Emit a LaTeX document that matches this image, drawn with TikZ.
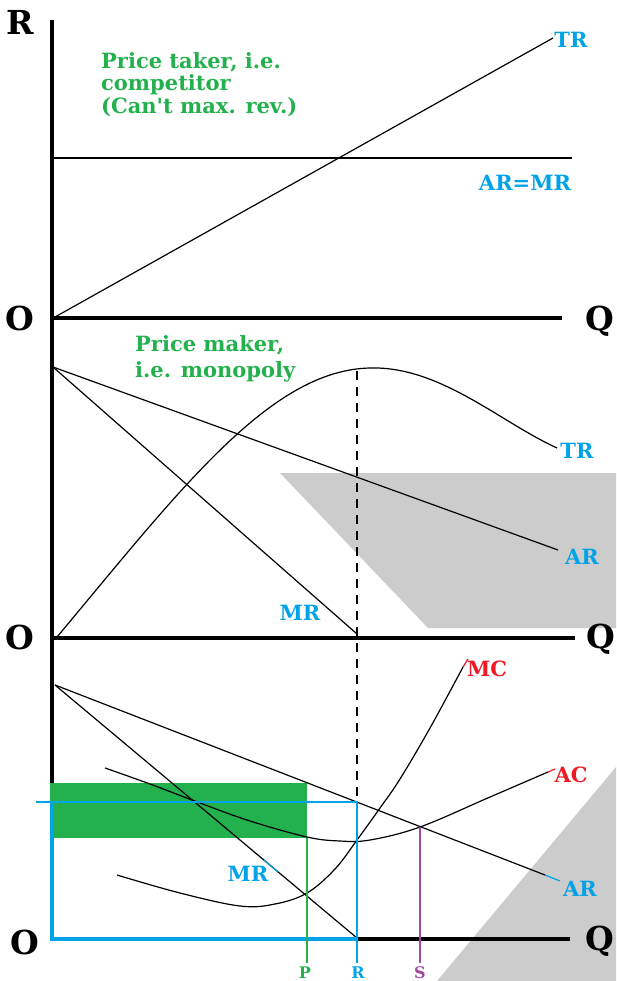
\documentclass[tikz,border=0pt]{standalone}
\usepackage{fontspec}
\setmainfont{DejaVu Serif}
\definecolor{pblue}{RGB}{0,162,232}
\definecolor{pgreen}{RGB}{34,177,76}
\definecolor{pred}{RGB}{237,28,36}
\definecolor{ppurple}{RGB}{163,73,164}
\definecolor{pgray}{RGB}{204,204,204}
\begin{document}
\begin{tikzpicture}[x=1pt,y=-1pt,
  axisline/.style={line width=4.5pt},
  curveline/.style={line width=1.2pt},
  dashline/.style={line width=1.5pt, dash pattern=on 9pt off 7pt},
  lbl/.style={font=\fontsize{21}{24}\selectfont\bfseries, inner sep=0pt},
  biglbl/.style={font=\fontsize{33}{36}\selectfont\bfseries, inner sep=0pt},
  smalllbl/.style={font=\fontsize{16}{18}\selectfont\bfseries, inner sep=0pt},
]
\useasboundingbox (0,0) rectangle (616,981);

% grey shading
\fill[pgray] (280,473) -- (616,473) -- (616,628) -- (428,628) -- cycle;
\fill[pgray] (437,981) -- (616,767) -- (616,981) -- cycle;

% coordinates
\coordinate (Vtop) at (52,20);
\coordinate (Vbot) at (52,783);
\coordinate (O1) at (50,318);  \coordinate (E1) at (562,318);
\coordinate (O2) at (50,638);  \coordinate (E2) at (575,638);
\coordinate (B3) at (357,939); \coordinate (E3) at (570,939);

% axes
\draw[axisline] (Vtop) -- (Vbot);
\draw[axisline] (O1) -- (E1);
\draw[axisline] (O2) -- (E2);
\draw[axisline] (B3) -- (E3);

% ---------- top panel ----------
\coordinate (armrL) at (52,158); \coordinate (armrR) at (572,158);
\coordinate (trS) at (55,317);   \coordinate (trE) at (553,38);
\draw[line width=1.4pt] (armrL) -- (armrR);
\draw[curveline] (trS) -- (trE);

% ---------- middle panel ----------
\coordinate (mS) at (53,367);
\coordinate (mAR) at (558,550);
\coordinate (mMR) at (357,634);
\coordinate (mTRs) at (57,637);
\coordinate (mTRp) at (370,368);
\coordinate (mTRe) at (557,448);
\draw[curveline] (mS) -- (mAR);
\draw[curveline] (mS) -- (mMR);
\draw[curveline] (mTRs) .. controls (180,490) and (270,370) .. (mTRp)
                        .. controls (440,366) and (500,422) .. (mTRe);
\coordinate (dTop) at (357,371);
\coordinate (dBot) at (357,802);
\draw[dashline] (dTop) -- (dBot);

% ---------- bottom panel ----------
\fill[pgreen] (50,783) rectangle (307,838);
\coordinate (bS) at (55,685);
\coordinate (bARk) at (545,875);
\coordinate (bARe) at (560,881);
\coordinate (bMR) at (357,938);
\coordinate (mrA) at (264,860);
\coordinate (mrB) at (278,872);
\draw[curveline] (bS) -- (bARk);
\draw[curveline, pblue] (bARk) -- (bARe);
\draw[curveline] (bS) -- (bMR);
\draw[curveline, pblue] (mrA) -- (mrB);
% MC
\coordinate (mcK) at (463,667);
\coordinate (mcE) at (468,659);
\draw[curveline] plot[smooth, tension=0.6] coordinates {(117,875) (180,893) (240,906) (275,904) (307,893) (335,869) (357,840) (380,808) (400,779) (430,728) (463,667)};
\draw[curveline, pred] (mcK) -- (mcE);
% AC
\coordinate (acK) at (548,772);
\coordinate (acE) at (555,769);
\draw[curveline] plot[smooth, tension=0.6] coordinates {(105,768) (150,784) (200,803) (250,821) (307,837) (340,841) (370,840) (420,827) (490,797) (548,772)};
\draw[curveline, pred] (acK) -- (acE);

% blue rectangle
\coordinate (bl1) at (36,802);
\coordinate (bl2) at (357,802);
\coordinate (bl3) at (52,802);
\draw[pblue, line width=2pt] (bl1) -- (bl2) -- (B3);
\draw[pblue, line width=4pt] (bl3) -- (52,939) -- (B3);

% vertical markers
\coordinate (pT) at (307,838); \coordinate (pB) at (307,963);
\coordinate (rT) at (357,939); \coordinate (rB) at (357,963);
\coordinate (sT) at (420,827); \coordinate (sB) at (420,963);
\draw[pgreen, line width=1.3pt] (pT) -- (pB);
\draw[pblue, line width=1.3pt] (rT) -- (rB);
\draw[ppurple, line width=1.3pt] (sT) -- (sB);

% ---------- labels ----------
\node[biglbl] (lR) at (20,22) {R};
\node[biglbl] (lO1) at (20,318) {O};
\node[biglbl] (lO2) at (20,637) {O};
\node[biglbl] (lO3) at (25,942) {O};
\node[biglbl] (lQ1) at (600,321) {Q};
\node[biglbl] (lQ2) at (601,639) {Q};
\node[biglbl] (lQ3) at (600,941) {Q};

\node[lbl, text=pgreen, align=left, anchor=north west, font=\fontsize{21}{22.5}\selectfont\bfseries] (tTaker) at (101,52)
  {Price taker, i.e.\\competitor\\(Can\XeTeXglyph\XeTeXcharglyph"27\relax t max. rev.)};
\node[lbl, text=pgreen, align=left, anchor=north west, font=\fontsize{21}{26.5}\selectfont\bfseries] (tMaker) at (135,335)
  {Price maker,\\i.e. monopoly};

\node[lbl, text=pblue] (lTR1) at (571,40) {TR};
\node[lbl, text=pblue] (lARMR) at (525,183) {AR=MR};
\node[lbl, text=pblue] (lTR2) at (577,451) {TR};
\node[lbl, text=pblue] (lAR2) at (582,557) {AR};
\node[lbl, text=pblue] (lMR2) at (300,613) {MR};
\node[lbl, text=pblue] (lMR3) at (248,874) {MR};
\node[lbl, text=pblue] (lAR3) at (580,889) {AR};
\node[lbl, text=pred] (lMC) at (487,669) {MC};
\node[lbl, text=pred] (lAC) at (571,775) {AC};

\node[smalllbl, text=pgreen] (lP) at (305,973) {P};
\node[smalllbl, text=pblue] (lRr) at (358,973) {R};
\node[smalllbl, text=ppurple] (lS) at (420,973) {S};
\end{tikzpicture}
\end{document}
